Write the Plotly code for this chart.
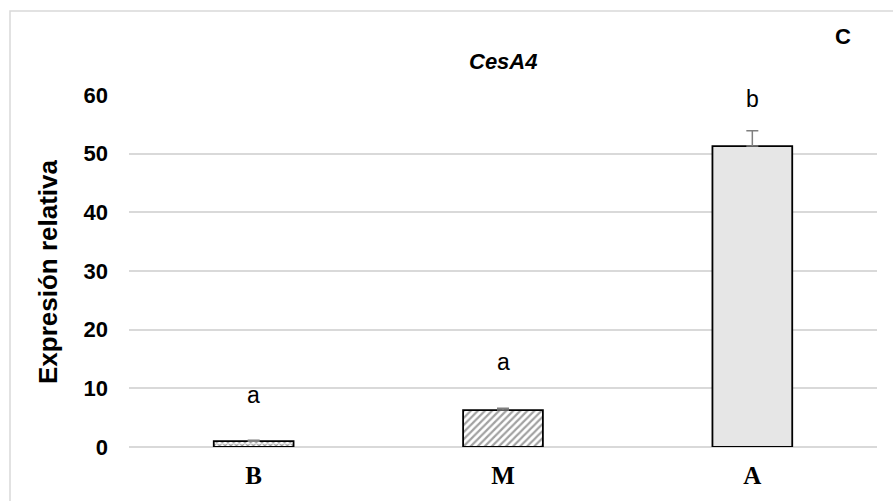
import plotly.graph_objects as go

categories = ["B", "M", "A"]
values = [1.0, 6.3, 51.3]
errors = [0.15, 0.3, 2.6]
letters = ["a", "a", "b"]
y_ticks = [0, 10, 20, 30, 40, 50, 60]

fills = ["white", "white", "#e6e6e6"]
shapes_pat = ["x", "/", ""]

fig = go.Figure()
fig.add_trace(go.Bar(
    x=categories, y=values, width=0.32,
    marker=dict(color=fills, line=dict(color="black", width=1.8),
                pattern=dict(shape=shapes_pat, size=[4, 5, 6], solidity=[0.5, 0.45, 0.2],
                             fgcolor="black", bgcolor=fills, fillmode="overlay")),
    error_y=dict(type="data", array=errors, symmetric=False, arrayminus=[0, 0, 0],
                 color="#7f7f7f", thickness=1.5, width=6),
    showlegend=False,
))

ARIAL = "Arial, Liberation Sans"
label_y = [8.9, 14.5, 59.4]
annotations = []
for c, ly, t in zip(categories, label_y, letters):
    annotations.append(dict(x=c, y=ly, xref="x", yref="y", text=t, showarrow=False,
                            xanchor="center", yanchor="middle",
                            font=dict(family=ARIAL, size=23, color="black")))
annotations.append(dict(x=0.5, y=1.0938, xref="paper", yref="paper", text="<b><i>CesA4</i></b>",
                        xanchor="center", yanchor="middle",
                        showarrow=False, font=dict(family=ARIAL, size=22, color="black")))
annotations.append(dict(x=0.9545, y=1.1648, xref="paper", yref="paper", text="<b>C</b>",
                        xanchor="center", yanchor="middle",
                        showarrow=False, font=dict(family=ARIAL, size=22, color="black")))
annotations.append(dict(x=-0.1083, y=0.5, xref="paper", yref="paper", text="<b>Expresión relativa</b>",
                        textangle=-90, showarrow=False, xanchor="center", yanchor="middle",
                        font=dict(family=ARIAL, size=26, color="black")))

fig.update_layout(
    width=893, height=501,
    margin=dict(l=129, r=16, t=95, b=54),
    paper_bgcolor="white", plot_bgcolor="white",
    annotations=annotations,
    shapes=[dict(type="rect", xref="paper", yref="paper",
                 x0=(10 - 129) / 748, x1=(905 - 129) / 748,
                 y0=(447 - 515) / 352, y1=(447 - 11) / 352,
                 line=dict(color="#d9d9d9", width=1.5), fillcolor="rgba(0,0,0,0)", layer="below")],
)
fig.update_yaxes(range=[0, 60], tickvals=y_ticks, showgrid=True, gridcolor="#d9d9d9", gridwidth=1.5,
                 zeroline=True, zerolinecolor="#d9d9d9", zerolinewidth=1.5, showline=False,
                 ticks="", ticklabelstandoff=20,
                 tickfont=dict(family=ARIAL, size=22, color="black", weight="bold"))
fig.update_xaxes(showline=False, ticks="", ticklabelstandoff=11,
                 tickfont=dict(family="Times New Roman, Liberation Serif", size=25, color="black",
                               weight="bold"))

fig.write_html("out.html")
